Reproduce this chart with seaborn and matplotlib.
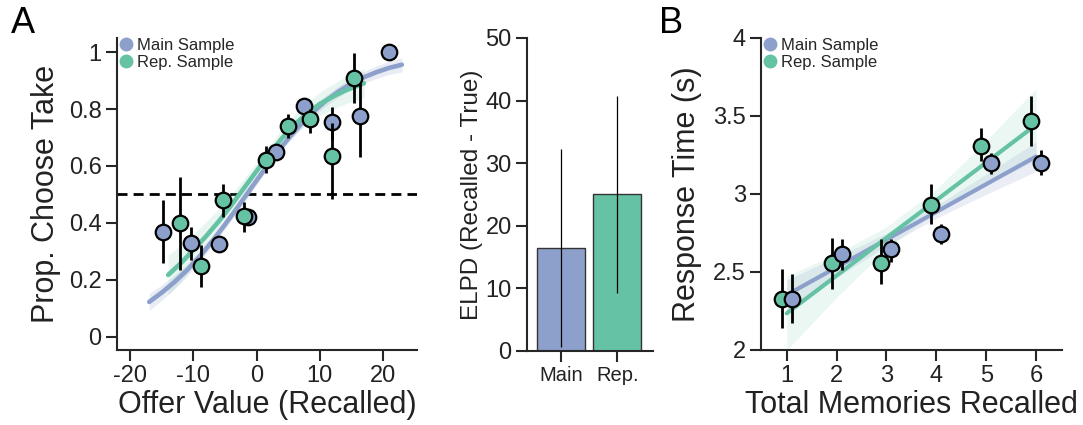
import numpy as np
import pandas as pd
import matplotlib
matplotlib.use("Agg")
import matplotlib.pyplot as plt
from matplotlib.lines import Line2D
import seaborn as sns

# ---------------- data ----------------
# Panel A: proportion choose take vs offer value (recalled)
offer_main = [-14.8, -10.4, -5.95, -1.3, 3.05, 7.47, 11.95, 16.4, 20.9]
take_main = [0.367, 0.328, 0.326, 0.42, 0.65, 0.811, 0.754, 0.777, 1.0]
take_main_lo = [0.258, 0.27, 0.316, 0.40, 0.64, 0.80, 0.69, 0.633, 1.0]
take_main_hi = [0.481, 0.387, 0.336, 0.44, 0.66, 0.82, 0.809, 0.891, 1.0]

offer_rep = [-12.2, -8.8, -5.27, -1.95, 1.47, 5.0, 8.42, 11.95, 15.4]
take_rep = [0.40, 0.25, 0.48, 0.424, 0.621, 0.742, 0.764, 0.636, 0.908]
take_rep_lo = [0.235, 0.176, 0.422, 0.369, 0.574, 0.697, 0.717, 0.483, 0.82]
take_rep_hi = [0.563, 0.322, 0.537, 0.475, 0.67, 0.783, 0.80, 0.75, 0.996]

# logistic fits
fitA_main_x = [-17, -15, -13, -11, -9, -7, -5, -3, -1, 1, 3, 5, 7, 9, 11, 13, 15, 17, 19, 21, 23]
fitA_main_y = [0.122, 0.155, 0.192, 0.234, 0.282, 0.336, 0.394, 0.455, 0.518, 0.580, 0.640,
               0.696, 0.747, 0.791, 0.830, 0.862, 0.890, 0.912, 0.930, 0.945, 0.956]
fitA_main_half = [0.03, 0.027, 0.024, 0.021, 0.019, 0.017, 0.016, 0.015, 0.015, 0.015, 0.015,
                  0.015, 0.016, 0.017, 0.018, 0.019, 0.02, 0.021, 0.022, 0.023, 0.025]

fitA_rep_x = [-14, -12, -10, -8, -6, -4, -2, 0, 2, 4, 6, 8, 10, 12, 14, 16, 17]
fitA_rep_y = [0.217, 0.258, 0.305, 0.353, 0.405, 0.462, 0.522, 0.582, 0.642, 0.697, 0.745,
              0.785, 0.818, 0.843, 0.865, 0.882, 0.891]
fitA_rep_half = [0.07, 0.064, 0.057, 0.05, 0.044, 0.038, 0.033, 0.03, 0.03, 0.032, 0.035,
                 0.038, 0.041, 0.044, 0.047, 0.05, 0.052]

# Bar panel: ELPD (Recalled - True)
bar_labels = ["Main", "Rep."]
elpd = [16.4, 25.1]
elpd_lo = [0.6, 9.3]
elpd_hi = [32.3, 40.8]

# Panel B: response time vs total memories recalled
mem_main_x = [1.1, 2.1, 3.1, 4.1, 5.1, 6.1]
rt_main = [2.327, 2.616, 2.646, 2.745, 3.198, 3.2]
rt_main_lo = [2.17, 2.51, 2.567, 2.68, 3.13, 3.12]
rt_main_hi = [2.49, 2.71, 2.71, 2.81, 3.26, 3.28]

mem_rep_x = [0.9, 1.9, 2.9, 3.9, 4.9, 5.9]
rt_rep = [2.33, 2.556, 2.56, 2.93, 3.31, 3.466]
rt_rep_lo = [2.14, 2.39, 2.42, 2.81, 3.21, 3.31]
rt_rep_hi = [2.52, 2.72, 2.71, 3.065, 3.42, 3.63]

fitB_x = [1, 2, 3, 4, 5, 6]
fitB_main = [2.353, 2.530, 2.708, 2.885, 3.063, 3.240]
fitB_main_lo = [2.25, 2.465, 2.668, 2.845, 2.998, 3.145]
fitB_main_hi = [2.45, 2.595, 2.748, 2.925, 3.128, 3.335]
fitB_rep = [2.235, 2.477, 2.719, 2.960, 3.202, 3.444]
fitB_rep_lo = [2.0, 2.337, 2.649, 2.89, 3.062, 3.214]
fitB_rep_hi = [2.475, 2.617, 2.789, 3.03, 3.342, 3.674]

legend_labels = ["Main Sample", "Rep. Sample"]

# ---------------- style ----------------
sns.set_style("ticks")
plt.rcParams["font.family"] = ["Liberation Sans", "DejaVu Sans"]
plt.rcParams["axes.unicode_minus"] = False
AX_COL = "#262626"
plt.rcParams.update({
    "axes.edgecolor": AX_COL,
    "axes.linewidth": 1.5,
    "xtick.major.width": 1.5,
    "ytick.major.width": 1.5,
    "xtick.major.size": 8,
    "ytick.major.size": 8,
    "xtick.color": AX_COL,
    "ytick.color": AX_COL,
    "xtick.labelcolor": "#222222",
    "ytick.labelcolor": "#222222",
    "xtick.major.pad": 3,
    "ytick.major.pad": 3,
})

C_MAIN = "#8da0cb"
C_REP = "#66c2a5"

fig = plt.figure(figsize=(10.83, 4.25), dpi=100)
W, H = 1083, 425


def add_ax(l, r, t, b):
    return fig.add_axes([l / W, 1 - b / H, (r - l) / W, (b - t) / H])


axA = add_ax(117, 417, 38, 350)
axE = add_ax(527, 653, 38, 350.7)
axB = add_ax(761, 1062, 38, 350)


def points(ax, x, y, lo, hi, color, z):
    ax.vlines(x, lo, hi, color="black", lw=2.0, zorder=z)
    sns.scatterplot(x=x, y=y, ax=ax, color=color, s=125, edgecolor="black",
                    linewidth=1.6, zorder=z + 0.5, legend=False)


def legend(ax):
    handles = [Line2D([], [], ls="none", marker="o", ms=10, color=c, mec="none")
               for c in (C_MAIN, C_REP)]
    ax.legend(handles, legend_labels, loc="upper left", bbox_to_anchor=(-0.005, 1.012),
              frameon=False, fontsize=12, handlelength=0.9, handletextpad=0.2,
              labelspacing=0.12, borderpad=0.2, borderaxespad=0.0)


# ---------------- Panel A ----------------
ax = axA
ax.axhline(0.5, color="black", lw=2, ls=(0, (3.6, 2.2)), zorder=1)
ax.fill_between(fitA_main_x, np.array(fitA_main_y) - np.array(fitA_main_half),
                np.array(fitA_main_y) + np.array(fitA_main_half),
                color=C_MAIN, alpha=0.2, lw=0, zorder=2)
ax.fill_between(fitA_rep_x, np.array(fitA_rep_y) - np.array(fitA_rep_half),
                np.array(fitA_rep_y) + np.array(fitA_rep_half),
                color=C_REP, alpha=0.15, lw=0, zorder=2)
sns.lineplot(x=fitA_main_x, y=fitA_main_y, ax=ax, color=C_MAIN, lw=3.3, zorder=3)
sns.lineplot(x=fitA_rep_x, y=fitA_rep_y, ax=ax, color=C_REP, lw=3.3, zorder=3.2)
points(ax, offer_main, take_main, take_main_lo, take_main_hi, C_MAIN, 4)
points(ax, offer_rep, take_rep, take_rep_lo, take_rep_hi, C_REP, 6)
ax.set_xlim(-22.1, 25.4)
ax.set_ylim(-0.047, 1.05)
ax.set_xticks([-20, -10, 0, 10, 20])
ax.set_yticks([0, 0.2, 0.4, 0.6, 0.8, 1.0])
ax.set_yticklabels(["0", "0.2", "0.4", "0.6", "0.8", "1"])
ax.tick_params(labelsize=17)
ax.set_xlabel("Offer Value (Recalled)", fontsize=22, labelpad=2, color="#222222")
ax.set_ylabel("Prop. Choose Take", fontsize=22, labelpad=6, color="#222222")
legend(ax)
sns.despine(ax=ax)

# ---------------- ELPD bars ----------------
ax = axE
sns.barplot(x=bar_labels, y=elpd, hue=bar_labels, palette=[C_MAIN, C_REP],
            width=0.85, edgecolor="#333333", linewidth=1.0, saturation=1,
            legend=False, ax=ax, errorbar=None)
ax.vlines(range(len(bar_labels)), elpd_lo, elpd_hi, color="black", lw=0.9, zorder=5)
ax.set_xlim(-0.6, 1.63)
ax.set_ylim(0, 50)
ax.set_yticks([0, 10, 20, 30, 40, 50])
ax.tick_params(axis="y", labelsize=17)
ax.tick_params(axis="x", labelsize=14.5)
ax.set_ylabel("ELPD (Recalled - True)", fontsize=17.5, labelpad=2, color="#222222")
ax.set_xlabel("")
sns.despine(ax=ax)

# ---------------- Panel B ----------------
ax = axB
ax.fill_between(fitB_x, fitB_rep_lo, fitB_rep_hi, color=C_REP, alpha=0.13, lw=0, zorder=2)
ax.fill_between(fitB_x, fitB_main_lo, fitB_main_hi, color=C_MAIN, alpha=0.18, lw=0, zorder=2)
sns.lineplot(x=fitB_x, y=fitB_main, ax=ax, color=C_MAIN, lw=3.0, zorder=3)
sns.lineplot(x=fitB_x, y=fitB_rep, ax=ax, color=C_REP, lw=3.0, zorder=3.2)
points(ax, mem_rep_x, rt_rep, rt_rep_lo, rt_rep_hi, C_REP, 4)
points(ax, mem_main_x, rt_main, rt_main_lo, rt_main_hi, C_MAIN, 6)
ax.set_xlim(0.484, 6.52)
ax.set_ylim(2, 4)
ax.set_xticks([1, 2, 3, 4, 5, 6])
ax.set_yticks([2, 2.5, 3, 3.5, 4])
ax.set_yticklabels(["2", "2.5", "3", "3.5", "4"])
ax.tick_params(labelsize=17)
ax.set_xlabel("Total Memories Recalled", fontsize=22, labelpad=2, color="#222222")
ax.set_ylabel("Response Time (s)", fontsize=22, labelpad=8, color="#222222")
legend(ax)
sns.despine(ax=ax)

# panel letters
fig.text(11 / W, 1 - 33 / H, "A", fontsize=26, color="black")
fig.text(659 / W, 1 - 33 / H, "B", fontsize=26, color="black")

fig.savefig("out.png", dpi=100)
